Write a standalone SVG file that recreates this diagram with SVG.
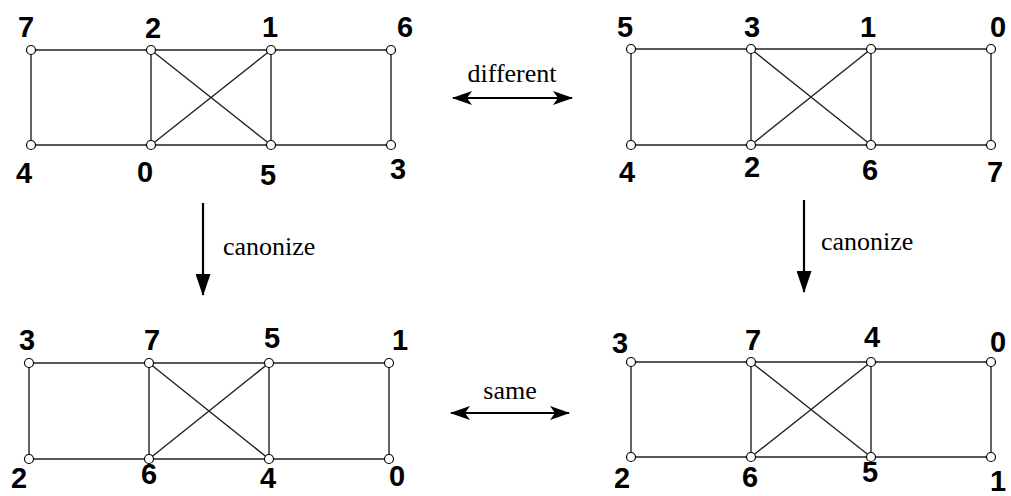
<svg xmlns="http://www.w3.org/2000/svg" width="1011" height="496" viewBox="0 0 1011 496">
<defs>
<style>
.e{stroke:#222;stroke-width:1.4;fill:none}
.n{fill:#fff;stroke:#000;stroke-width:1.2}
.lb{font-family:"Liberation Sans",Arial,sans-serif;font-weight:bold;font-size:29px;fill:#000;text-anchor:middle}
.tx{font-family:"Liberation Serif","Times New Roman",serif;font-size:26px;fill:#000}
.ar{stroke:#000;stroke-width:2.2;fill:none}
</style>
<marker id="ah" viewBox="0 0 20 14" refX="19" refY="7" markerWidth="20" markerHeight="14" markerUnits="userSpaceOnUse" orient="auto-start-reverse">
<path d="M0,0 L20,7 L0,14 L5,7 Z" fill="#000"/>
</marker>
<marker id="av" viewBox="0 0 22 15" refX="21" refY="7.5" markerWidth="22" markerHeight="15" markerUnits="userSpaceOnUse" orient="auto">
<path d="M0,0 L22,7.5 L0,15 Z" fill="#000"/>
</marker>
</defs>
<rect width="1011" height="496" fill="#fff"/>

<g id="connectors">
<g id="edges-tl">
<path class="e" d="M31,50H391M31,145H391M31,50V145M151,50V145M271,50V145M391,50V145M151,50L271,145M271,50L151,145"/>
</g>
<g id="edges-tr">
<path class="e" d="M631,49H991M631,145H991M631,49V145M751,49V145M871,49V145M991,49V145M751,49L871,145M871,49L751,145"/>
</g>
<g id="edges-bl">
<path class="e" d="M29,363H389M29,459H389M29,363V459M149,363V459M269,363V459M389,363V459M149,363L269,459M269,363L149,459"/>
</g>
<g id="edges-br">
<path class="e" d="M631,362H991M631,457H991M631,362V457M751,362V457M871,362V457M991,362V457M751,362L871,457M871,362L751,457"/>
</g>
<line class="ar" x1="453" y1="98" x2="572" y2="98" marker-start="url(#ah)" marker-end="url(#ah)"/>
<line class="ar" x1="451" y1="413" x2="569" y2="413" marker-start="url(#ah)" marker-end="url(#ah)"/>
<line class="ar" x1="203" y1="203" x2="203" y2="295" marker-end="url(#av)"/>
<line class="ar" x1="804" y1="200" x2="804" y2="292" marker-end="url(#av)"/>
<text class="tx" x="512" y="82" text-anchor="middle">different</text>
<text class="tx" x="510" y="399" text-anchor="middle">same</text>
<text class="tx" x="223" y="255">canonize</text>
<text class="tx" x="821" y="250">canonize</text>
</g>

<g id="tl-7"><circle class="n" cx="31" cy="50" r="4.5"/><text class="lb" x="26" y="37">7</text></g>
<g id="tl-2"><circle class="n" cx="151" cy="50" r="4.5"/><text class="lb" x="153" y="38">2</text></g>
<g id="tl-1"><circle class="n" cx="271" cy="50" r="4.5"/><text class="lb" x="270" y="37">1</text></g>
<g id="tl-6"><circle class="n" cx="391" cy="50" r="4.5"/><text class="lb" x="405" y="37">6</text></g>
<g id="tl-4"><circle class="n" cx="31" cy="145" r="4.5"/><text class="lb" x="24" y="183">4</text></g>
<g id="tl-0"><circle class="n" cx="151" cy="145" r="4.5"/><text class="lb" x="145" y="182">0</text></g>
<g id="tl-5"><circle class="n" cx="271" cy="145" r="4.5"/><text class="lb" x="268" y="185">5</text></g>
<g id="tl-3"><circle class="n" cx="391" cy="145" r="4.5"/><text class="lb" x="398" y="179">3</text></g>

<g id="tr-5"><circle class="n" cx="631" cy="49" r="4.5"/><text class="lb" x="625" y="37">5</text></g>
<g id="tr-3"><circle class="n" cx="751" cy="49" r="4.5"/><text class="lb" x="752" y="37">3</text></g>
<g id="tr-1"><circle class="n" cx="871" cy="49" r="4.5"/><text class="lb" x="868" y="37">1</text></g>
<g id="tr-0"><circle class="n" cx="991" cy="49" r="4.5"/><text class="lb" x="998" y="37">0</text></g>
<g id="tr-4"><circle class="n" cx="631" cy="145" r="4.5"/><text class="lb" x="627" y="182">4</text></g>
<g id="tr-2"><circle class="n" cx="751" cy="145" r="4.5"/><text class="lb" x="752" y="177">2</text></g>
<g id="tr-6"><circle class="n" cx="871" cy="145" r="4.5"/><text class="lb" x="870" y="180">6</text></g>
<g id="tr-7"><circle class="n" cx="991" cy="145" r="4.5"/><text class="lb" x="995" y="182">7</text></g>

<g id="bl-3"><circle class="n" cx="29" cy="363" r="4.5"/><text class="lb" x="27" y="350">3</text></g>
<g id="bl-7"><circle class="n" cx="149" cy="363" r="4.5"/><text class="lb" x="152" y="350">7</text></g>
<g id="bl-5"><circle class="n" cx="269" cy="363" r="4.5"/><text class="lb" x="272" y="348">5</text></g>
<g id="bl-1"><circle class="n" cx="389" cy="363" r="4.5"/><text class="lb" x="400" y="350">1</text></g>
<g id="bl-2"><circle class="n" cx="29" cy="459" r="4.5"/><text class="lb" x="19" y="488">2</text></g>
<g id="bl-6"><circle class="n" cx="149" cy="459" r="4.5"/><text class="lb" x="149" y="484">6</text></g>
<g id="bl-4"><circle class="n" cx="269" cy="459" r="4.5"/><text class="lb" x="268" y="488">4</text></g>
<g id="bl-0"><circle class="n" cx="389" cy="459" r="4.5"/><text class="lb" x="397" y="486">0</text></g>

<g id="br-3"><circle class="n" cx="631" cy="362" r="4.5"/><text class="lb" x="620" y="353">3</text></g>
<g id="br-7"><circle class="n" cx="751" cy="362" r="4.5"/><text class="lb" x="753" y="350">7</text></g>
<g id="br-4"><circle class="n" cx="871" cy="362" r="4.5"/><text class="lb" x="872" y="347">4</text></g>
<g id="br-0"><circle class="n" cx="991" cy="362" r="4.5"/><text class="lb" x="998" y="352">0</text></g>
<g id="br-2"><circle class="n" cx="631" cy="457" r="4.5"/><text class="lb" x="622" y="488">2</text></g>
<g id="br-6"><circle class="n" cx="751" cy="457" r="4.5"/><text class="lb" x="750" y="487">6</text></g>
<g id="br-5"><circle class="n" cx="871" cy="457" r="4.5"/><text class="lb" x="870" y="482">5</text></g>
<g id="br-1"><circle class="n" cx="991" cy="457" r="4.5"/><text class="lb" x="998" y="491">1</text></g>
</svg>
